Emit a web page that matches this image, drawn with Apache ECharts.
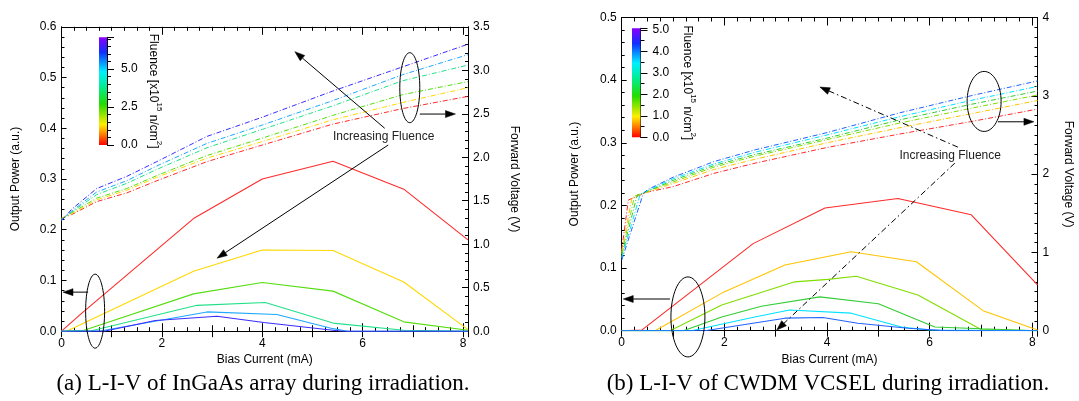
<!DOCTYPE html>
<html><head><meta charset="utf-8">
<script src="https://cdn.jsdelivr.net/npm/echarts@6.0.0/dist/echarts.min.js"></script>
<style>html,body{margin:0;padding:0;background:#fff;}#chart{width:1079px;height:401px;}</style>
</head><body><div id="chart"></div>
<script>
// ===================== DATA =====================
// (a) InGaAs array — output power [bias mA, power a.u.]
const leftPowerRed    = [[0,0],[0.4,0.035],[2.63,0.222],[4.0,0.300],[5.41,0.335],[6.82,0.280],[8.1,0.180]];
const leftPowerYellow = [[0,0],[0.1,0],[2.63,0.118],[4.0,0.160],[5.41,0.159],[6.82,0.097],[8.1,0.003]];
const leftPowerGreen  = [[0,0],[0.45,0.002],[2.63,0.0736],[4.0,0.096],[5.41,0.079],[6.82,0.0184],[8.1,0.002]];
const leftPowerTeal   = [[0,0],[0.6,0.001],[2.7,0.051],[4.06,0.0565],[5.41,0.016],[6.82,0.002],[8.1,0]];
const leftPowerSky    = [[0,0],[0.8,0.001],[2.9,0.038],[4.29,0.033],[5.41,0.005],[5.7,0],[8.1,0]];
const leftPowerBlue   = [[0,0],[0.85,0],[1.87,0.021],[3.1,0.0296],[4.03,0.017],[5.41,0.002],[5.6,0],[8.1,0]];
// (a) forward voltage, shared bias points
const leftVoltX      = [0, 0.2, 0.7, 1.3, 1.9, 2.9, 4.0, 5.4, 6.8, 8.1];
const leftVoltRed    = [1.30, 1.34, 1.49, 1.59, 1.73, 1.95, 2.14, 2.38, 2.56, 2.70];
const leftVoltYellow = [1.30, 1.35, 1.51, 1.62, 1.77, 1.99, 2.18, 2.43, 2.63, 2.80];
const leftVoltGreen  = [1.29, 1.36, 1.53, 1.64, 1.79, 2.02, 2.22, 2.48, 2.72, 2.87];
const leftVoltTeal   = [1.28, 1.37, 1.57, 1.70, 1.86, 2.11, 2.32, 2.59, 2.88, 3.06];
const leftVoltSky    = [1.28, 1.38, 1.60, 1.73, 1.90, 2.16, 2.37, 2.65, 2.95, 3.18];
const leftVoltBlue   = [1.27, 1.40, 1.64, 1.78, 1.95, 2.24, 2.46, 2.76, 3.04, 3.30];

// (b) CWDM VCSEL — output power [bias mA, power a.u.]
const rightPowerRed    = [[0,0],[0.39,0.001],[2.56,0.139],[3.96,0.196],[5.38,0.211],[6.81,0.185],[8.1,0.073]];
const rightPowerGold   = [[0,0],[0.65,0],[1.95,0.060],[3.18,0.105],[4.47,0.126],[5.74,0.110],[7.04,0.032],[8.1,0.001]];
const rightPowerLime   = [[0,0],[0.94,0],[1.95,0.041],[3.37,0.078],[4.02,0.082],[4.57,0.087],[5.77,0.057],[7.0,0.002],[8.1,0]];
const rightPowerGreen  = [[0,0],[1.2,0],[1.95,0.022],[2.72,0.039],[3.86,0.054],[5.0,0.043],[6.1,0.006],[7.0,0.003],[8.1,0]];
const rightPowerCyan   = [[0,0],[1.36,0],[2.59,0.022],[3.27,0.033],[4.47,0.028],[5.45,0.006],[6.0,0.001],[8.1,0]];
const rightPowerBlue   = [[0,0],[1.62,0],[3.18,0.020],[3.92,0.021],[4.6,0.012],[5.58,0.004],[6.35,0],[8.1,0]];
// (b) forward voltage [bias mA, V]
const rightVoltRed   = [[0,1.03],[0.13,1.67],[0.5,1.77],[1.0,1.84],[1.8,2.01],[2.6,2.14],[4.0,2.34],[5.4,2.51],[6.8,2.67],[8.1,2.83]];
const rightVoltGold  = [[0,1.00],[0.2,1.70],[0.5,1.77],[1.0,1.88],[1.8,2.06],[2.6,2.19],[4.0,2.40],[5.4,2.59],[6.8,2.77],[8.1,2.94]];
const rightVoltLime  = [[0,0.98],[0.25,1.72],[0.5,1.78],[1.0,1.90],[1.8,2.09],[2.6,2.23],[4.0,2.44],[5.4,2.65],[6.8,2.84],[8.1,3.01]];
const rightVoltGreen = [[0,0.95],[0.3,1.73],[0.5,1.78],[1.0,1.92],[1.8,2.11],[2.6,2.25],[4.0,2.46],[5.4,2.69],[6.8,2.89],[8.1,3.06]];
const rightVoltCyan  = [[0,0.93],[0.36,1.74],[0.5,1.79],[1.0,1.94],[1.8,2.13],[2.6,2.28],[4.0,2.50],[5.4,2.73],[6.8,2.94],[8.1,3.12]];
const rightVoltBlue  = [[0,0.90],[0.42,1.75],[0.5,1.80],[1.0,1.96],[1.8,2.16],[2.6,2.31],[4.0,2.53],[5.4,2.78],[6.8,3.00],[8.1,3.19]];

// colour-bar ranges (fluence, x10^15 n/cm^2)
const leftFluenceMax = 7.1;
const rightFluenceMax = 5.08;

// texts
const xTitle = 'Bias Current (mA)';
const yTitleLeft = 'Output Power (a.u.)';
const yTitleRight = 'Forward Voltage (V)';
const fluenceTitle = '{a|Fluence [x10}{s|15}{a| n/cm}{s|2}{a|]}';
const noteText = 'Increasing Fluence';
const captionA = '(a) L-I-V of InGaAs array during irradiation.';
const captionB = '(b) L-I-V of CWDM VCSEL during irradiation.';

// ===================== STYLE =====================
const FONT = '"Liberation Sans", Arial, Helvetica, sans-serif';
const SERIF = '"Liberation Serif", "Times New Roman", serif';
const leftColors  = ['#ff2a2a', '#ffd800', '#55dd11', '#22e088', '#1ea8ff', '#3a2cff'];
const rightColors = ['#ff2a2a', '#ffc400', '#80dd00', '#33cc33', '#00e2ff', '#2262ff'];
const K = '#000';
const DASHDOT = [5, 2, 1, 2];

const chart = echarts.init(document.getElementById('chart'), null, {renderer: 'canvas'});

const lbl = {color: K, fontSize: 12, fontFamily: FONT};
const nameStyle = {color: K, fontSize: 12, fontFamily: FONT};

function xMain(grid, pos, withLabel) {
  return {gridIndex: grid, type: 'value', min: 0, max: 8.1, interval: 2, position: pos,
    axisLine: {show: true, onZero: false, lineStyle: {color: K, width: 1}},
    axisTick: {show: true, inside: true, length: 8, lineStyle: {color: K, width: 1}},
    minorTick: {show: true, splitNumber: 8, length: 4, lineStyle: {color: K, width: 1}},
    splitLine: {show: false}, minorSplitLine: {show: false},
    axisLabel: Object.assign({show: withLabel, margin: 6, showMaxLabel: false}, lbl),
    name: withLabel ? xTitle : '', nameLocation: 'middle', nameGap: 19, nameTextStyle: nameStyle};
}
function xMid(grid, pos) {
  return {gridIndex: grid, type: 'value', min: 0, max: 8.1, interval: 1, position: pos,
    axisLine: {show: false}, axisLabel: {show: false}, splitLine: {show: false},
    axisTick: {show: true, inside: true, length: 6, lineStyle: {color: K, width: 1}}};
}
function yMain(grid, pos, max, interval, split, dec, name, gap, rot, majorLen) {
  const o = {gridIndex: grid, type: 'value', min: 0, max: max, interval: interval, position: pos,
    axisLine: {show: true, onZero: false, lineStyle: {color: K, width: 1}},
    axisTick: {show: true, inside: true, length: majorLen, lineStyle: {color: K, width: 1}},
    minorTick: {show: true, splitNumber: split, length: 3, lineStyle: {color: K, width: 1}},
    splitLine: {show: false}, minorSplitLine: {show: false},
    axisLabel: Object.assign({margin: 5, formatter: v => v.toFixed(dec)}, lbl),
    name: name, nameLocation: 'middle', nameGap: gap, nameTextStyle: nameStyle};
  if (rot !== null) o.nameRotate = rot;
  return o;
}
function yBar(grid, max, interval, split, gap, margin) {
  return {gridIndex: grid, type: 'value', min: 0, max: max, interval: interval, position: 'right',
    axisLine: {show: true, onZero: false, lineStyle: {color: K, width: 1}},
    axisTick: {show: true, inside: false, length: 7, lineStyle: {color: K, width: 1}},
    minorTick: {show: true, splitNumber: split, length: 4, lineStyle: {color: K, width: 1}},
    splitLine: {show: false}, minorSplitLine: {show: false},
    axisLabel: Object.assign({margin: margin, showMaxLabel: false, formatter: v => v.toFixed(1)}, lbl),
    name: fluenceTitle, nameLocation: 'middle', nameGap: gap, nameRotate: -90,
    nameTextStyle: {color: K, fontFamily: FONT, rich: {
      a: {fontSize: 12, lineHeight: 16, verticalAlign: 'bottom', color: K, fontFamily: FONT},
      s: {fontSize: 8, lineHeight: 8, verticalAlign: 'top', color: K, fontFamily: FONT}}}};
}

function line(data, color, xi, yi, dashed) {
  return {type: 'line', xAxisIndex: xi, yAxisIndex: yi, data: data, symbol: 'none', showSymbol: false,
    silent: true, animation: false, clip: true, z: dashed ? 3 : 4,
    lineStyle: {color: color, width: dashed ? 1 : 1.1, type: dashed ? DASHDOT : 'solid'}};
}
const pairs = (xs, ys) => xs.map((x, i) => [x, ys[i]]);

const rainbow = (max) => new echarts.graphic.LinearGradient(0, 1, 0, 0, [
  {offset: 0, color: '#ff0000'}, {offset: 0.1, color: '#ff8000'}, {offset: 0.19, color: '#ffee00'},
  {offset: 0.38, color: '#22dd00'}, {offset: 0.55, color: '#00ee99'}, {offset: 0.68, color: '#00f0ff'},
  {offset: 0.86, color: '#1030ff'}, {offset: 1, color: '#8a00ff'}]);

const leftPower = [leftPowerRed, leftPowerYellow, leftPowerGreen, leftPowerTeal, leftPowerSky, leftPowerBlue];
const leftVolt = [leftVoltRed, leftVoltYellow, leftVoltGreen, leftVoltTeal, leftVoltSky, leftVoltBlue];
const rightPower = [rightPowerRed, rightPowerGold, rightPowerLime, rightPowerGreen, rightPowerCyan, rightPowerBlue];
const rightVolt = [rightVoltRed, rightVoltGold, rightVoltLime, rightVoltGreen, rightVoltCyan, rightVoltBlue];

const series = [];
leftVolt.forEach((v, i) => series.push(line(pairs(leftVoltX, v), leftColors[i], 0, 1, true)));
leftPower.forEach((d, i) => series.push(line(d, leftColors[i], 0, 0, false)));
rightVolt.forEach((d, i) => series.push(line(d, rightColors[i], 4, 3, true)));
rightPower.forEach((d, i) => series.push(line(d, rightColors[i], 4, 2, false)));
series.push({type: 'bar', xAxisIndex: 8, yAxisIndex: 4, data: [leftFluenceMax], barWidth: '100%', silent: true,
  animation: false, itemStyle: {color: rainbow(leftFluenceMax)}});
series.push({type: 'bar', xAxisIndex: 9, yAxisIndex: 5, data: [rightFluenceMax], barWidth: '100%', silent: true,
  animation: false, itemStyle: {color: rainbow(rightFluenceMax)}});

chart.setOption({
  animation: false,
  backgroundColor: '#fff',
  grid: [
    {left: 61.5, top: 26.8, width: 406.5, height: 304.4, outerBoundsMode: 'none'},
    {left: 621.7, top: 17.5, width: 415.8, height: 313.2, outerBoundsMode: 'none'},
    {left: 99, top: 37.3, width: 8, height: 107.7, outerBoundsMode: 'none'},
    {left: 632, top: 28.3, width: 8.5, height: 109, outerBoundsMode: 'none'}
  ],
  xAxis: [
    xMain(0, 'bottom', true), xMain(0, 'top', false), xMid(0, 'bottom'), xMid(0, 'top'),
    xMain(1, 'bottom', true), xMain(1, 'top', false), xMid(1, 'bottom'), xMid(1, 'top'),
    {gridIndex: 2, type: 'category', data: ['f'], show: false},
    {gridIndex: 3, type: 'category', data: ['f'], show: false}
  ],
  yAxis: [
    yMain(0, 'left', 0.6, 0.1, 5, 1, yTitleLeft, 40, null, 5),
    yMain(0, 'right', 3.5, 0.5, 5, 1, yTitleRight, 40, -90, 6),
    yMain(1, 'left', 0.5, 0.1, 5, 1, yTitleLeft, 41, null, 5),
    yMain(1, 'right', 4, 1, 8, 0, yTitleRight, 25, -90, 6),
    yBar(2, leftFluenceMax, 2.5, 5, 40, 14),
    yBar(3, rightFluenceMax, 1, 2, 41, 12)
  ],
  series: series
});

// ===================== ANNOTATIONS (placed in data space) =====================
const notesLeft = {
  axes: {xAxisIndex: 0, yAxisIndex: 0},
  ellipses: [{c: [6.94, 0.480], rx: 10, ry: 35}, {c: [0.67, 0.0395], rx: 9.5, ry: 37}],
  arrows: [
    {from: [7.14, 0.428], to: [7.85, 0.428], dash: false},
    {from: [0.53, 0.077], to: [0.03, 0.077], dash: false},
    {from: [6.44, 0.400], to: [4.65, 0.551], dash: false},
    {from: [6.51, 0.367], to: [3.10, 0.144], dash: false}
  ],
  text: [6.42, 0.383]
};
const notesRight = {
  axes: {xAxisIndex: 4, yAxisIndex: 2},
  ellipses: [{c: [7.06, 0.366], rx: 17, ry: 30}, {c: [1.29, 0.022], rx: 17, ry: 40}],
  arrows: [
    {from: [7.33, 0.3335], to: [8.03, 0.3335], dash: false},
    {from: [0.94, 0.0506], to: [0.03, 0.0506], dash: false},
    {from: [6.55, 0.293], to: [3.86, 0.389], dash: true},
    {from: [6.49, 0.2675], to: [3.02, 0.001], dash: true}
  ],
  text: [6.40, 0.279]
};

function arrowEls(p0, p1, dash) {
  const dx = p1[0] - p0[0], dy = p1[1] - p0[1], L = Math.hypot(dx, dy), ux = dx / L, uy = dy / L;
  const hl = 10, hw = 3.5, bx = p1[0] - ux * hl, by = p1[1] - uy * hl;
  return [
    {type: 'line', silent: true, z: 50, shape: {x1: p0[0], y1: p0[1], x2: bx, y2: by},
      style: {stroke: K, lineWidth: 1, lineDash: dash ? [6, 3, 1.5, 3] : null}},
    {type: 'polygon', silent: true, z: 50,
      shape: {points: [[p1[0], p1[1]], [bx - uy * hw, by + ux * hw], [bx + uy * hw, by - ux * hw]]},
      style: {fill: K, stroke: K, lineWidth: 0.5}}
  ];
}
function noteEls(n) {
  const P = v => chart.convertToPixel(n.axes, v);
  const els = [];
  n.ellipses.forEach(e => {
    const c = P(e.c);
    els.push({type: 'ellipse', silent: true, z: 50, shape: {cx: c[0], cy: c[1], rx: e.rx, ry: e.ry},
      style: {fill: null, stroke: K, lineWidth: 1}});
  });
  n.arrows.forEach(a => els.push(...arrowEls(P(a.from), P(a.to), a.dash)));
  const t = P(n.text);
  els.push({type: 'text', silent: true, z: 50, x: t[0], y: t[1],
    style: {text: noteText, fill: '#222', font: '12px ' + FONT, textAlign: 'center', textVerticalAlign: 'middle'}});
  return els;
}
const graphics = [...noteEls(notesLeft), ...noteEls(notesRight)];
graphics.push({type: 'text', silent: true, x: 263, y: 384,
  style: {text: captionA, fill: K, font: '23px ' + SERIF, textAlign: 'center', textVerticalAlign: 'middle'}});
graphics.push({type: 'text', silent: true, x: 828, y: 384,
  style: {text: captionB, fill: K, font: '23px ' + SERIF, textAlign: 'center', textVerticalAlign: 'middle'}});
chart.setOption({graphic: graphics});
</script></body></html>
